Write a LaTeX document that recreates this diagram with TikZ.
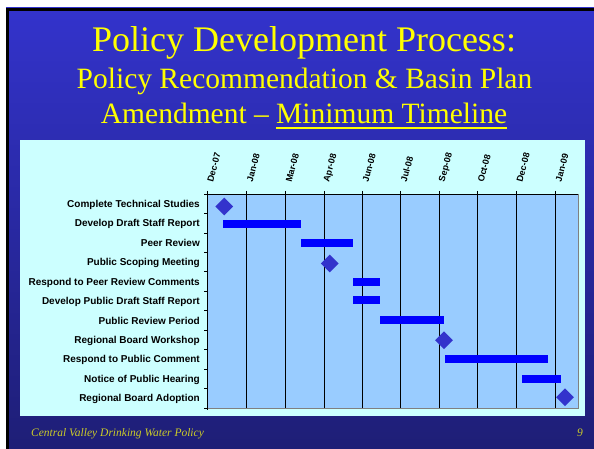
\documentclass[tikz,border=0pt]{standalone}
\usepackage{fontspec}
\setmainfont{Liberation Serif}
\newfontfamily\arialf{Liberation Sans}
\usetikzlibrary{shapes.geometric}
\definecolor{slidetop}{RGB}{51,51,204}
\definecolor{slidebot}{RGB}{30,30,118}
\definecolor{titleyel}{RGB}{255,255,0}
\definecolor{footyel}{RGB}{204,204,40}
\definecolor{chartbg}{RGB}{204,255,255}
\definecolor{plotbg}{RGB}{153,204,255}
\definecolor{barblue}{RGB}{0,0,255}
\definecolor{mileblue}{RGB}{51,51,204}
\newcommand\ulmine[1]{\setbox0\hbox{#1}\rlap{\rule[-5pt]{\wd0}{2pt}}\box0}
\begin{document}
\begin{tikzpicture}[x=1pt,y=-1pt,
  titleA/.style={text=titleyel,font=\fontsize{36}{40}\selectfont,inner sep=0},
  titleB/.style={text=titleyel,font=\fontsize{29.5}{32}\selectfont,inner sep=0},
  rowlab/.style={font=\arialf\bfseries\fontsize{10}{11}\selectfont,inner sep=0,anchor=base east},
  monthlab/.style={font=\arialf\bfseries\fontsize{9}{10}\selectfont,inner sep=0,anchor=west,rotate=75},
  ganttbar/.style={fill=barblue},
  milestone/.style={shape=diamond,fill=mileblue,minimum width=18pt,minimum height=18pt,inner sep=0},
  footer/.style={text=footyel,font=\itshape\fontsize{11.5}{12}\selectfont,inner sep=0}]
\useasboundingbox (0,0) rectangle (594,449);
\fill[white] (0,0) rectangle (594,449);
\shade[top color=slidetop,bottom color=slidebot] (6,8) rectangle (594,449);
\draw[line width=3pt,black] (7.5,449) -- (7.5,9.5) -- (594,9.5);
% titles
\node[titleA,anchor=base] (t1) at (304,52) {Policy Development Process:};
\node[titleB,anchor=base] (t2) at (304.5,89) {Policy Recommendation \& Basin Plan};
\node[titleB,anchor=base] (t3) at (304,124) {Amendment -- \ulmine{Minimum Timeline}};
% chart
\fill[chartbg] (20,140) rectangle (585,416);
\fill[plotbg] (207,194) rectangle (578,408);
\draw[gray,line width=0.8pt] (578,194) -- (578,408) -- (207,408);
\foreach \x in {246.5,285.5,324,362.3,400.5,439.3,477.5,516.3,555.3}
  \draw[line width=0.8pt] (\x,191) -- (\x,408);
\draw[line width=0.8pt] (207,191) -- (207,410);
\draw[line width=0.8pt] (207,194) -- (578,194);
\foreach \i in {0,...,11}
  \draw[line width=0.8pt] (204,194+19.4545*\i) -- (207,194+19.4545*\i);
% month labels
\foreach \x/\m [count=\k] in {207/Dec-07,246.5/Jan-08,285.5/Mar-08,324/Apr-08,362.3/Jun-08,400.5/Jul-08,439.3/Sep-08,477.5/Oct-08,516.3/Dec-08,555.3/Jan-09}
  \node[monthlab] (mo\k) at (\x+3,182) {\m};
% row labels
\node[rowlab] (r0) at (200,207.2) {Complete Technical Studies};
\node[rowlab] (r1) at (200,226.7) {Develop Draft Staff Report};
\node[rowlab] (r2) at (200,246.1) {Peer Review};
\node[rowlab] (r3) at (200,265.6) {Public Scoping Meeting};
\node[rowlab] (r4) at (200,285.0) {Respond to Peer Review Comments};
\node[rowlab] (r5) at (200,304.5) {Develop Public Draft Staff Report};
\node[rowlab] (r6) at (200,324.0) {Public Review Period};
\node[rowlab] (r7) at (200,343.4) {Regional Board Workshop};
\node[rowlab] (r8) at (200,362.8) {Respond to Public Comment};
\node[rowlab] (r9) at (200,382.3) {Notice of Public Hearing};
\node[rowlab] (r10) at (200,401.8) {Regional Board Adoption};
% bars
\fill[ganttbar] (222.7,219.7) rectangle (301,227.5);
\fill[ganttbar] (301,239) rectangle (353,246.8);
\fill[ganttbar] (353,277.5) rectangle (380,285.5);
\fill[ganttbar] (353,296.3) rectangle (380,304.3);
\fill[ganttbar] (380,316.3) rectangle (444,324.3);
\fill[ganttbar] (445,355.2) rectangle (548,362.8);
\fill[ganttbar] (522,374.7) rectangle (561,382.7);
% milestones
\node[milestone] (m0) at (224.3,206.5) {};
\node[milestone] (m3) at (329.7,263.5) {};
\node[milestone] (m7) at (444,340.3) {};
\node[milestone] (m10) at (565,397.3) {};
% footer
\node[footer,anchor=base west] (foot) at (31,436.5) {Central Valley Drinking Water Policy};
\node[footer,anchor=base east] (pg) at (583,436.5) {9};
\end{tikzpicture}
\end{document}
